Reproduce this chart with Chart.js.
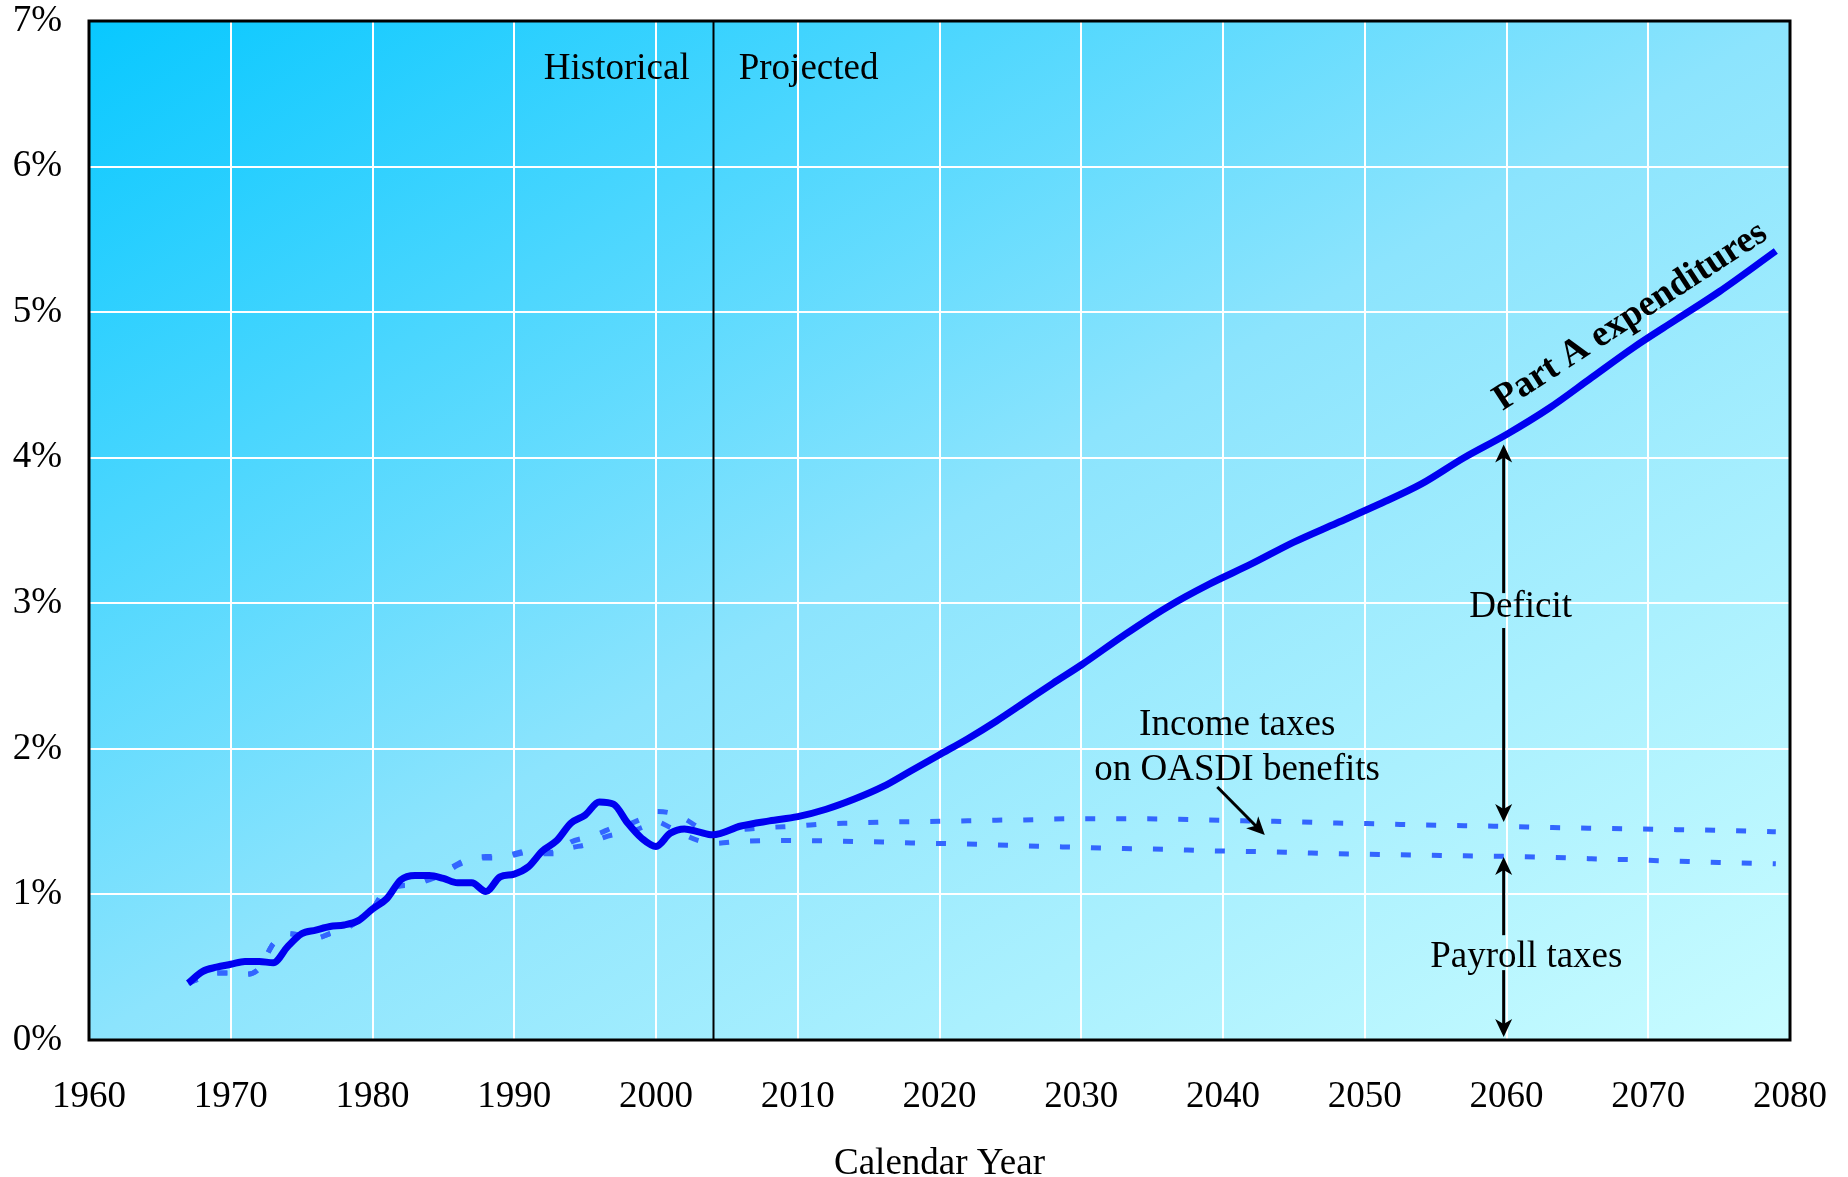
<!DOCTYPE html>
<html>
<head>
<meta charset="utf-8">
<script src="https://cdn.jsdelivr.net/npm/chart.js@4.4.1/dist/chart.umd.min.js"></script>
<style>
  html, body { margin: 0; padding: 0; background: #fff; }
  #wrap { width: 1848px; height: 1177px; }
</style>
</head>
<body>
<div id="wrap"><canvas id="myChart"></canvas></div>
<script>
// calendar years of the plotted points
const years = [
    1967, 1968, 1969, 1970, 1971, 1972, 1973, 1974, 1975, 1976,
    1977, 1978, 1979, 1980, 1981, 1982, 1983, 1984, 1985, 1986,
    1987, 1988, 1989, 1990, 1991, 1992, 1993, 1994, 1995, 1996,
    1997, 1998, 1999, 2000, 2001, 2002, 2003, 2004,
    2006, 2008, 2010, 2012, 2014, 2016, 2018, 2020, 2022, 2024,
    2026, 2028, 2030, 2033, 2036, 2039, 2042, 2045, 2048, 2051,
    2054, 2057, 2060, 2063, 2066, 2069, 2072, 2075, 2079
];

// Part A expenditures, % of taxable payroll
const expenditures = [
    0.39, 0.47, 0.50, 0.52, 0.54, 0.54, 0.53, 0.64, 0.73, 0.755,
    0.78, 0.79, 0.82, 0.90, 0.97, 1.10, 1.13, 1.13, 1.11, 1.08,
    1.08, 1.02, 1.12, 1.14, 1.19, 1.30, 1.37, 1.49, 1.545, 1.635,
    1.62, 1.49, 1.385, 1.33, 1.42, 1.45, 1.43, 1.41,
    1.47, 1.505, 1.534, 1.585, 1.655, 1.74, 1.85, 1.96, 2.07, 2.19,
    2.32, 2.45, 2.576, 2.78, 2.97, 3.13, 3.27, 3.42, 3.55, 3.68,
    3.82, 4.00, 4.16, 4.34, 4.55, 4.76, 4.95, 5.14, 5.42
];

// payroll taxes + income taxes on OASDI benefits
const totalIncome = [
    0.39, 0.43, 0.46, 0.46, 0.45, 0.49, 0.66, 0.73, 0.72, 0.70,
    0.73, 0.76, 0.82, 0.90, 1.04, 1.06, 1.07, 1.11, 1.15, 1.21,
    1.25, 1.26, 1.26, 1.28, 1.30, 1.29, 1.29, 1.36, 1.39, 1.42,
    1.46, 1.48, 1.52, 1.57, 1.56, 1.52, 1.46, 1.41,
    1.445, 1.46, 1.47, 1.485, 1.49, 1.497, 1.50, 1.502, 1.506, 1.51,
    1.512, 1.518, 1.52, 1.52, 1.518, 1.512, 1.505, 1.50, 1.49, 1.485,
    1.477, 1.472, 1.467, 1.46, 1.455, 1.45, 1.445, 1.44, 1.43
];

// payroll taxes only
const payrollTaxes = [
    0.39, 0.43, 0.46, 0.46, 0.45, 0.49, 0.66, 0.73, 0.72, 0.70,
    0.73, 0.76, 0.82, 0.90, 1.04, 1.06, 1.07, 1.10, 1.14, 1.20,
    1.24, 1.25, 1.25, 1.27, 1.29, 1.28, 1.28, 1.32, 1.34, 1.38,
    1.41, 1.42, 1.46, 1.50, 1.46, 1.41, 1.37, 1.35,
    1.365, 1.37, 1.37, 1.368, 1.363, 1.36, 1.354, 1.35, 1.346, 1.34,
    1.333, 1.328, 1.323, 1.315, 1.31, 1.30, 1.295, 1.288, 1.28, 1.275,
    1.27, 1.265, 1.262, 1.255, 1.245, 1.238, 1.228, 1.22, 1.21
];

const yearTicks = [1960, 1970, 1980, 1990, 2000, 2010, 2020, 2030, 2040, 2050, 2060, 2070, 2080];
const pctTicks = [0, 1, 2, 3, 4, 5, 6, 7];

const serif = 'Liberation Serif, Times New Roman, serif';

function toPoints(values) {
    return years.map(function (yr, i) {
        return { x: yr, y: values[i] };
    });
}

function arrow(ctx, x1, y1, x2, y2) {
    const a = Math.atan2(y2 - y1, x2 - x1);
    const c = Math.cos(a), s = Math.sin(a);
    const len = 18, half = 8.5;
    ctx.beginPath();
    ctx.moveTo(x1, y1);
    ctx.lineTo(x2 - c * 12, y2 - s * 12);
    ctx.stroke();
    ctx.beginPath();
    ctx.moveTo(x2, y2);
    ctx.lineTo(x2 - c * len - s * half, y2 - s * len + c * half);
    ctx.lineTo(x2 - c * 13, y2 - s * 13);
    ctx.lineTo(x2 - c * len + s * half, y2 - s * len - c * half);
    ctx.closePath();
    ctx.fill();
}

const decorations = {
    id: 'decorations',
    beforeDraw(chart) {
        const { ctx, chartArea: a } = chart;
        const w = a.right - a.left, h = a.bottom - a.top;
        const k = 2 * w * h / (w * w + h * h);
        const g = ctx.createLinearGradient(a.left, a.top, a.left + k * h, a.top + k * w);
        g.addColorStop(0, 'rgb(8,200,255)');
        g.addColorStop(0.5, 'rgb(140,228,253)');
        g.addColorStop(1, 'rgb(200,252,255)');
        ctx.save();
        ctx.fillStyle = g;
        ctx.fillRect(a.left, a.top, w, h);
        ctx.restore();
    },
    beforeDatasetsDraw(chart) {
        const { ctx, chartArea: a, scales: { x } } = chart;
        const xs = Math.round(x.getPixelForValue(2004)) + 0.5;
        ctx.save();
        ctx.strokeStyle = '#000';
        ctx.lineWidth = 2;
        ctx.beginPath();
        ctx.moveTo(xs, a.top);
        ctx.lineTo(xs, a.bottom);
        ctx.stroke();
        ctx.restore();
    },
    afterDatasetsDraw(chart) {
        const { ctx, scales: { x, y } } = chart;
        ctx.save();
        ctx.fillStyle = '#000';
        ctx.strokeStyle = '#000';
        ctx.font = '37px ' + serif;
        ctx.textBaseline = 'alphabetic';

        const x04 = x.getPixelForValue(2004);
        ctx.textAlign = 'right';
        ctx.fillText('Historical', x04 - 23, y.getPixelForValue(6.6));
        ctx.textAlign = 'left';
        ctx.fillText('Projected', x04 + 26, y.getPixelForValue(6.6));

        ctx.textAlign = 'center';
        const xi = x.getPixelForValue(2041);
        ctx.fillText('Income taxes', xi, y.getPixelForValue(2.095));
        ctx.fillText('on OASDI benefits', xi, y.getPixelForValue(1.786));

        const xd = x.getPixelForValue(2061);
        ctx.fillText('Deficit', xd, y.getPixelForValue(2.905));
        ctx.fillText('Payroll taxes', x.getPixelForValue(2061.4), y.getPixelForValue(0.50));

        ctx.lineWidth = 3;
        arrow(ctx, x.getPixelForValue(2039.6), y.getPixelForValue(1.738),
            x.getPixelForValue(2042.95), y.getPixelForValue(1.408));

        const xa = x.getPixelForValue(2059.8);
        arrow(ctx, xa, y.getPixelForValue(3.07), xa, y.getPixelForValue(4.09));
        arrow(ctx, xa, y.getPixelForValue(2.83), xa, y.getPixelForValue(1.497));
        arrow(ctx, xa, y.getPixelForValue(0.72), xa, y.getPixelForValue(1.257));
        arrow(ctx, xa, y.getPixelForValue(0.48), xa, y.getPixelForValue(0.02));

        // rotated series label
        ctx.font = 'bold 37px ' + serif;
        ctx.translate(x.getPixelForValue(2068.75), y.getPixelForValue(4.97));
        ctx.rotate(-33 * Math.PI / 180);
        ctx.textAlign = 'center';
        ctx.textBaseline = 'middle';
        ctx.fillText('Part A expenditures', 0, 0);
        ctx.restore();
    },
    afterDraw(chart) {
        const { ctx, chartArea: a } = chart;
        ctx.save();
        ctx.strokeStyle = '#000';
        ctx.lineWidth = 3;
        ctx.strokeRect(a.left, a.top, a.right - a.left, a.bottom - a.top);
        ctx.restore();
    }
};

const ctx = document.getElementById('myChart').getContext('2d');
const myChart = new Chart(ctx, {
    type: 'line',
    data: {
        datasets: [{
            label: 'Part A expenditures',
            data: toPoints(expenditures),
            borderColor: '#0000f0',
            borderWidth: 7,
            order: 0
        }, {
            label: 'Payroll taxes + income taxes on OASDI benefits',
            data: toPoints(totalIncome),
            borderColor: '#3366ff',
            borderWidth: 5,
            borderDash: [10, 21],
            order: 1
        }, {
            label: 'Payroll taxes',
            data: toPoints(payrollTaxes),
            borderColor: '#3366ff',
            borderWidth: 5,
            borderDash: [10, 21],
            order: 2
        }]
    },
    options: {
        responsive: true,
        maintainAspectRatio: false,
        animation: false,
        layout: {
            padding: { left: 0, right: 58, top: 21, bottom: 0 }
        },
        elements: {
            point: { radius: 0 },
            line: { cubicInterpolationMode: 'monotone', borderCapStyle: 'butt' }
        },
        plugins: {
            legend: { display: false },
            tooltip: { enabled: false }
        },
        scales: {
            x: {
                type: 'linear',
                min: 1960,
                max: 2080,
                afterBuildTicks: function (scale) {
                    scale.ticks = yearTicks.map(function (v) { return { value: v }; });
                },
                afterFit: function (scale) { scale.height = 137; },
                grid: {
                    color: '#ffffff',
                    lineWidth: 2,
                    drawTicks: true,
                    tickLength: 39,
                    tickColor: 'rgba(0,0,0,0)'
                },
                border: { display: false },
                ticks: {
                    padding: 0,
                    color: '#000',
                    font: { family: serif, size: 37, lineHeight: 1 },
                    maxRotation: 0,
                    callback: function (v) { return String(v); }
                },
                title: {
                    display: true,
                    text: 'Calendar Year',
                    color: '#000',
                    padding: { top: 0, bottom: -6 },
                    font: { family: serif, size: 37, lineHeight: 1 }
                }
            },
            y: {
                min: 0,
                max: 7,
                afterBuildTicks: function (scale) {
                    scale.ticks = pctTicks.map(function (v) { return { value: v }; });
                },
                afterFit: function (scale) { scale.width = 89; },
                grid: {
                    color: '#ffffff',
                    lineWidth: 2,
                    drawTicks: true,
                    tickLength: 27,
                    tickColor: 'rgba(0,0,0,0)'
                },
                border: { display: false },
                ticks: {
                    padding: 0,
                    color: '#000',
                    font: { family: serif, size: 37, lineHeight: 1 },
                    callback: function (v) { return v + '%'; }
                }
            }
        }
    },
    plugins: [decorations]
});
</script>
</body>
</html>
